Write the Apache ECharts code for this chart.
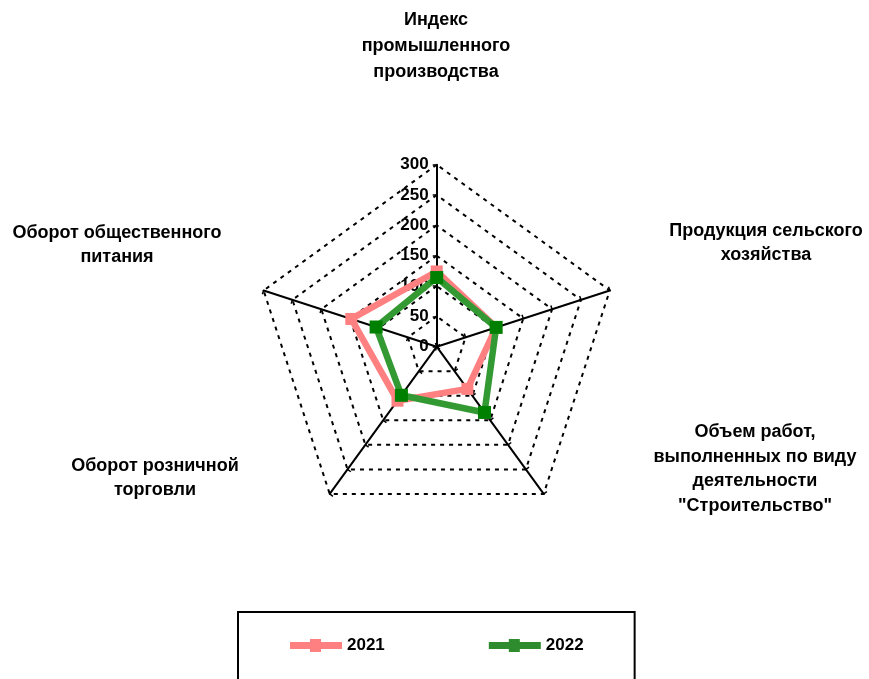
<!DOCTYPE html>
<html><head><meta charset="utf-8">
<script src="https://cdn.jsdelivr.net/npm/echarts@6/dist/echarts.min.js"></script>
<style>html,body{margin:0;padding:0;background:#fff}#c{width:869px;height:679px}</style>
</head><body><div id="c"></div>
<script>
var categories = [
  'Индекс\nпромышленного\nпроизводства',
  'Продукция сельского\nхозяйства',
  'Объем работ,\nвыполненных по виду\nдеятельности\n"Строительство"',
  'Оборот розничной\nторговли',
  'Оборот общественного\nпитания'
];
var values2021 = [124, 103, 86, 110, 148];
var values2022 = [114, 103, 134, 99, 105];
var seriesNames = ['2021', '2022'];
var axisMax = 300;

var FONT = 'Liberation Sans, Arial, sans-serif';
var namePos = [[436, 46], [766, 243], [755, 469], [155, 478], [117, 245]];
var nameLH = [26, 24.5, 24.5, 24.5, 24.5];
// ECharts radar runs counter-clockwise; the reference runs clockwise
var order = [0, 4, 3, 2, 1];
function reorder(arr) { return order.map(function (k) { return arr[k]; }); }

var legendIcon = 'path://M0,3 L52,3 L52,10 L0,10 Z M20,0 L31,0 L31,13 L20,13 Z';

var chart = echarts.init(document.getElementById('c'));
chart.setOption({
  animation: false,
  backgroundColor: '#fff',
  radar: {
    center: [436.7, 346.7],
    radius: 182,
    startAngle: 90,
    shape: 'polygon',
    splitNumber: 6,
    indicator: reorder(categories).map(function (c, i) {
      return { name: c, min: 0, max: axisMax, axisLabel: { show: i === 0 } };
    }),
    axisName: { show: false },
    axisLine: { lineStyle: { color: '#000', width: 2 } },
    axisTick: { show: true, length: 4, lineStyle: { color: '#000', width: 1.5 } },
    axisLabel: { show: false, color: '#000', fontSize: 17, fontWeight: 'bold', fontFamily: FONT, margin: 8 },
    splitLine: { lineStyle: { color: '#000', width: 2, type: [4, 5] } },
    splitArea: { show: false }
  },
  legend: {
    left: 238, top: 612,
    data: [
      { name: seriesNames[0], icon: legendIcon, itemStyle: { color: '#FF8080' } },
      { name: seriesNames[1], icon: legendIcon, itemStyle: { color: '#2E8B2E' } }
    ],
    itemWidth: 52, itemHeight: 13, itemGap: 104,
    padding: [25, 51, 60, 52],
    borderColor: '#000', borderWidth: 2,
    textStyle: { color: '#000', fontSize: 17, fontWeight: 'bold', fontFamily: FONT }
  },
  graphic: categories.map(function (c, i) {
    return {
      type: 'text', x: namePos[i][0], y: namePos[i][1],
      style: { text: c, textAlign: 'center', textVerticalAlign: 'middle',
        font: 'bold 18px ' + FONT, lineHeight: nameLH[i], fill: '#000' }
    };
  }),
  series: [{
    type: 'radar',
    data: [
      { name: seriesNames[0], value: reorder(values2021),
        symbol: 'rect', symbolSize: 12,
        itemStyle: { color: '#FF8080' },
        lineStyle: { color: '#FF8080', width: 6.5 } },
      { name: seriesNames[1], value: reorder(values2022),
        symbol: 'rect', symbolSize: 13,
        itemStyle: { color: '#008000' },
        lineStyle: { color: '#339933', width: 6.5 } }
    ]
  }]
});
</script></body></html>
